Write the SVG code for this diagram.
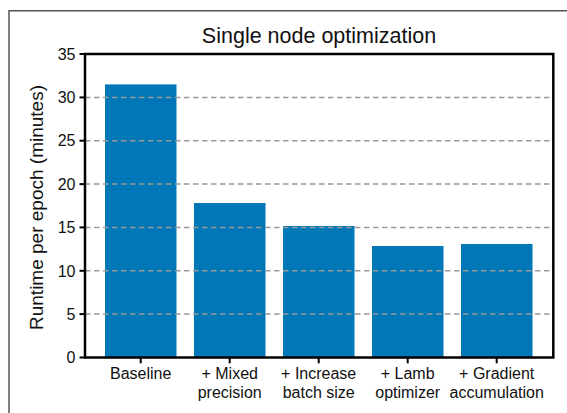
<svg xmlns="http://www.w3.org/2000/svg" width="567" height="413" viewBox="0 0 567 413">
  <style>
    text { font-family: "Liberation Sans", Arial, sans-serif; fill: #111; }
    .tick { font-size: 16px; }
    .ylab { font-size: 16px; text-anchor: end; }
    .xlab { font-size: 16px; text-anchor: middle; }
    .bar { fill: #0077b6; }
    .grid { stroke: #999; stroke-width: 1.5; stroke-dasharray: 5.5 3.5; fill: none; }
    .spine { stroke: #000; stroke-width: 2.5; fill: none; }
    .tk { stroke: #000; stroke-width: 2; }
  </style>
  <rect width="567" height="413" fill="#fff"/>
  <!-- outer frame -->
  <path d="M9,413 V10.7 H567" fill="none" stroke="#555" stroke-width="1.5"/>

  <text x="319" y="42.5" font-size="21.5" text-anchor="middle">Single node optimization</text>

  <g id="bars">
    <rect id="bar-baseline" class="bar" x="105" y="84.4" width="71.5" height="273.1"/>
    <rect id="bar-mixed" class="bar" x="194" y="203" width="71.5" height="154.5"/>
    <rect id="bar-batch" class="bar" x="283" y="226" width="71.5" height="131.5"/>
    <rect id="bar-lamb" class="bar" x="372" y="246" width="71.5" height="111.5"/>
    <rect id="bar-grad" class="bar" x="461" y="244" width="71.5" height="113.5"/>
  </g>

  <g id="grid">
    <line class="grid" x1="85" x2="553" y1="314.1" y2="314.1"/>
    <line class="grid" x1="85" x2="553" y1="270.8" y2="270.8"/>
    <line class="grid" x1="85" x2="553" y1="227.4" y2="227.4"/>
    <line class="grid" x1="85" x2="553" y1="184.1" y2="184.1"/>
    <line class="grid" x1="85" x2="553" y1="140.7" y2="140.7"/>
    <line class="grid" x1="85" x2="553" y1="97.4" y2="97.4"/>
  </g>

  <rect class="spine" x="85" y="54" width="468.3" height="303.5"/>

  <g id="yticks">
    <line class="tk" x1="79.5" x2="85" y1="357.5" y2="357.5"/>
    <line class="tk" x1="79.5" x2="85" y1="314.1" y2="314.1"/>
    <line class="tk" x1="79.5" x2="85" y1="270.8" y2="270.8"/>
    <line class="tk" x1="79.5" x2="85" y1="227.4" y2="227.4"/>
    <line class="tk" x1="79.5" x2="85" y1="184.1" y2="184.1"/>
    <line class="tk" x1="79.5" x2="85" y1="140.7" y2="140.7"/>
    <line class="tk" x1="79.5" x2="85" y1="97.4" y2="97.4"/>
    <line class="tk" x1="79.5" x2="85" y1="54" y2="54"/>
    <text class="ylab" x="75.5" y="363.2">0</text>
    <text class="ylab" x="75.5" y="319.8">5</text>
    <text class="ylab" x="75.5" y="276.5">10</text>
    <text class="ylab" x="75.5" y="233.1">15</text>
    <text class="ylab" x="75.5" y="189.8">20</text>
    <text class="ylab" x="75.5" y="146.4">25</text>
    <text class="ylab" x="75.5" y="103.1">30</text>
    <text class="ylab" x="75.5" y="59.7">35</text>
  </g>

  <g id="xticks">
    <line class="tk" x1="140.7" x2="140.7" y1="357.5" y2="363.3"/>
    <line class="tk" x1="229.7" x2="229.7" y1="357.5" y2="363.3"/>
    <line class="tk" x1="318.7" x2="318.7" y1="357.5" y2="363.3"/>
    <line class="tk" x1="407.7" x2="407.7" y1="357.5" y2="363.3"/>
    <line class="tk" x1="496.7" x2="496.7" y1="357.5" y2="363.3"/>
    <text class="xlab" x="140.7" y="379.3">Baseline</text>
    <text class="xlab" x="229.7" y="379.3">+ Mixed</text>
    <text class="xlab" x="229.7" y="397.7">precision</text>
    <text class="xlab" x="318.7" y="379.3">+ Increase</text>
    <text class="xlab" x="318.7" y="397.7">batch size</text>
    <text class="xlab" x="407.7" y="379.3">+ Lamb</text>
    <text class="xlab" x="407.7" y="397.7">optimizer</text>
    <text class="xlab" x="496.7" y="379.3">+ Gradient</text>
    <text class="xlab" x="496.7" y="397.7">accumulation</text>
  </g>

  <text x="43" y="207.5" font-size="19" text-anchor="middle" transform="rotate(-90 43 207.5)">Runtime per epoch (minutes)</text>
</svg>
